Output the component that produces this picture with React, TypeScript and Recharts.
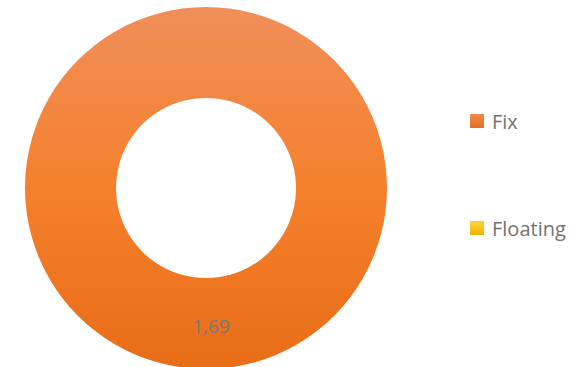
import { PieChart, Pie, Cell, Legend } from "recharts"

const categories = ["Fix", "Floating"]
const values = [1.69, 0]
const labels = ["1,69", ""]

const data = categories.map((name, i) => ({ name, value: values[i], label: labels[i] }))

const fills = ["url(#fixGrad)", "url(#floatGrad)"]

const RADIAN = Math.PI / 180

const renderLabel = (props: any) => {
  const { cx, cy, midAngle, innerRadius, outerRadius, index } = props
  if (!data[index].label) return null
  const r = (innerRadius + outerRadius) / 2
  const x = cx + r * Math.cos(-midAngle * RADIAN)
  const y = cy + r * Math.sin(-midAngle * RADIAN)
  return (
    <text
      x={x + 5}
      y={y + 4}
      fill="#777777"
      fontSize={19}
      fontFamily="'Open Sans', sans-serif"
      textAnchor="middle"
      dominantBaseline="middle"
    >
      {data[index].label}
    </text>
  )
}

const renderLegend = () => (
  <div style={{ fontFamily: "'Open Sans', sans-serif", fontSize: 20, color: "#767171" }}>
    {categories.map((c, i) => (
      <div key={c} style={{ display: "flex", alignItems: "center", height: 30, marginBottom: i === 0 ? 77 : 0 }}>
        <div
          style={{
            width: 14,
            height: 14,
            marginRight: 8,
            background: i === 0 ? "linear-gradient(#f4894a, #e8701e)" : "linear-gradient(#ffd23a, #f0b400)",
          }}
        />
        <span>{c}</span>
      </div>
    ))}
  </div>
)

export default function App() {
  return (
    <div style={{ position: "fixed", left: 0, top: 0, width: 585, height: 367, background: "#fff" }}>
      <PieChart width={585} height={367} margin={{ top: 0, right: 0, bottom: 0, left: 0 }}>
        <defs>
          <linearGradient id="fixGrad" x1="0" y1="0" x2="0" y2="1">
            <stop offset="0%" stopColor="#f08f5a" />
            <stop offset="50%" stopColor="#f5802c" />
            <stop offset="100%" stopColor="#e86d17" />
          </linearGradient>
          <linearGradient id="floatGrad" x1="0" y1="0" x2="0" y2="1">
            <stop offset="0%" stopColor="#ffd23a" />
            <stop offset="100%" stopColor="#f0b400" />
          </linearGradient>
        </defs>
        <Pie
          data={data}
          dataKey="value"
          nameKey="name"
          cx={206}
          cy={188}
          innerRadius={90}
          outerRadius={181}
          startAngle={90}
          endAngle={-270}
          stroke="none"
          label={renderLabel}
          labelLine={false}
          isAnimationActive={false}
        >
          {data.map((d, i) => (
            <Cell key={d.name} fill={fills[i]} />
          ))}
        </Pie>
        <Legend
          layout="vertical"
          align="right"
          verticalAlign="top"
          content={renderLegend}
          wrapperStyle={{ left: 470, top: 106, width: 115 }}
        />
      </PieChart>
    </div>
  )
}
